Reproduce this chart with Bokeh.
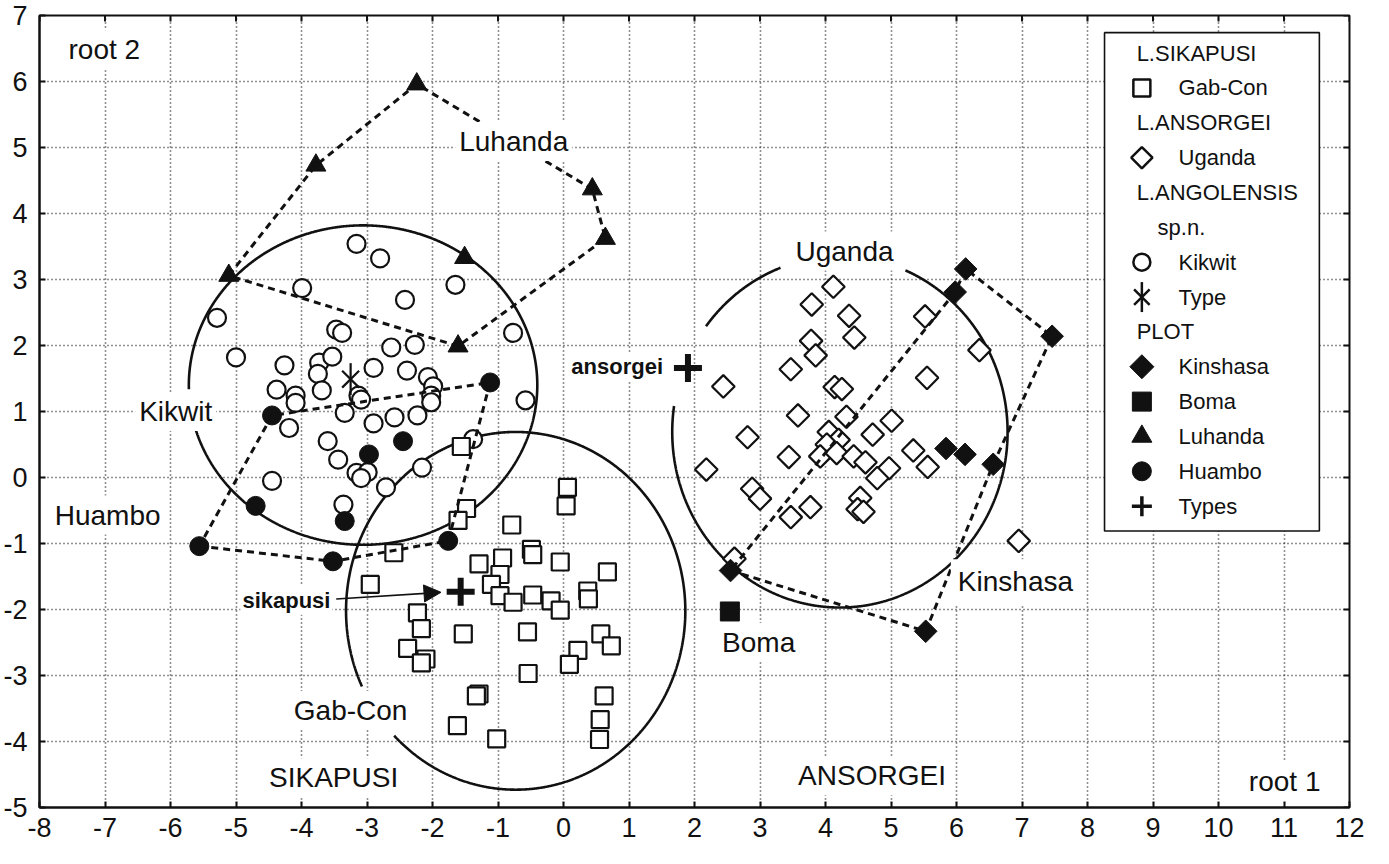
import numpy as np
from bokeh.plotting import figure
from bokeh.models import Range1d, Label, Arrow, NormalHead, FixedTicker
from bokeh.core.properties import value
from bokeh.embed import file_html
from bokeh.resources import INLINE

# ---------------- data ----------------
x_ticks = list(range(-8, 13))
y_ticks = list(range(-5, 8))

# L. sikapusi, Gab-Con (open squares)
gabcon_x = [-1.56, -1.48, -1.61, -2.59, -2.95, 0.06, 0.04, -0.79, -0.49, -0.47, -0.05, -1.29, -0.93, -0.97,
            -1.10, -0.97, -0.77, -0.47, -0.19, -0.05, 0.67, 0.37, 0.38, -2.23, -2.17, -2.38, -2.10, -2.17,
            -1.53, -0.55, 0.57, 0.73, 0.22, 0.09, -0.54, -1.29, -1.33, 0.62, 0.56, 0.55, -1.62, -1.02]
gabcon_y = [0.47, -0.47, -0.65, -1.14, -1.62, -0.15, -0.43, -0.72, -1.09, -1.17, -1.28, -1.31, -1.22, -1.47,
            -1.62, -1.79, -1.89, -1.78, -1.87, -2.01, -1.43, -1.72, -1.84, -2.05, -2.29, -2.59, -2.75, -2.81,
            -2.37, -2.34, -2.37, -2.55, -2.62, -2.83, -2.97, -3.28, -3.31, -3.31, -3.67, -3.97, -3.76, -3.96]

# L. ansorgei, Uganda (open diamonds)
uganda_x = [4.12, 3.79, 4.36, 4.44, 3.78, 3.85, 3.47, 5.52, 6.35, 5.55, 2.44, 4.14, 4.25, 3.58, 4.32, 5.01,
            4.72, 2.81, 4.05, 4.20, 4.02, 3.44, 3.92, 4.17, 4.43, 4.61, 5.34, 5.56, 4.97, 4.79, 2.18, 2.88,
            3.00, 3.77, 3.47, 4.53, 4.49, 4.58, 6.95, 2.61]
uganda_y = [2.89, 2.62, 2.45, 2.12, 2.07, 1.85, 1.64, 2.44, 1.93, 1.51, 1.38, 1.37, 1.34, 0.94, 0.92, 0.86,
            0.65, 0.61, 0.69, 0.57, 0.50, 0.31, 0.32, 0.37, 0.32, 0.23, 0.41, 0.16, 0.14, -0.01, 0.12, -0.17,
            -0.32, -0.45, -0.60, -0.31, -0.48, -0.52, -0.96, -1.23]

# L. angolensis sp.n., Kikwit (open circles)
kikwit_x = [-3.16, -2.80, -3.99, -2.42, -1.65, -5.29, -0.77, -3.47, -3.38, -2.63, -2.27, -5.00, -4.26, -3.73,
            -3.53, -3.75, -2.90, -2.39, -2.07, -1.99, -2.02, -2.02, -4.38, -4.09, -4.09, -3.69, -3.13, -3.09,
            -3.34, -2.58, -2.23, -2.90, -4.19, -0.58, -3.60, -2.16, -3.44, -3.16, -2.99, -3.09, -4.45, -3.36,
            -2.71, -1.38]
kikwit_y = [3.54, 3.32, 2.87, 2.69, 2.92, 2.42, 2.19, 2.24, 2.19, 1.97, 2.01, 1.82, 1.70, 1.74,
            1.83, 1.57, 1.66, 1.62, 1.52, 1.38, 1.24, 1.14, 1.33, 1.24, 1.13, 1.32, 1.24, 1.18,
            0.98, 0.91, 0.94, 0.82, 0.75, 1.17, 0.55, 0.15, 0.27, 0.07, 0.08, -0.01, -0.05, -0.41,
            -0.15, 0.58]
type_x = [-3.25]
type_y = [1.49]

# PLOT samples
kinshasa_x = [6.14, 5.98, 7.46, 5.84, 6.13, 6.56, 2.55, 5.53]
kinshasa_y = [3.16, 2.81, 2.14, 0.44, 0.35, 0.20, -1.41, -2.33]
kinshasa_hull = [6, 7, 5, 2, 0, 1]
boma_x = [2.54]
boma_y = [-2.03]
luhanda_x = [-5.11, -3.78, -2.24, 0.44, 0.64, -1.51, -1.61]
luhanda_y = [3.06, 4.73, 5.96, 4.37, 3.62, 3.33, 1.99]
luhanda_hull = [0, 1, 2, 3, 4, 6]
huambo_x = [-5.56, -4.70, -4.45, -3.52, -3.34, -2.97, -2.45, -1.76, -1.12]
huambo_y = [-1.04, -0.43, 0.94, -1.27, -0.66, 0.35, 0.55, -0.96, 1.44]
huambo_hull = [0, 3, 7, 8, 2]
types_x = [1.90, -1.57]
types_y = [1.66, -1.73]

# group circles: centre x, centre y, radius x, radius y, gaps (angle ranges)
ell_cx = [-3.06, -0.73, 4.22]
ell_cy = [1.40, -2.02, 0.69]
ell_rx = [2.66, 2.59, 2.56]
ell_ry = [2.42, 2.71, 2.66]
ell_gaps = [[(3.17, 3.40)], [(3.58, 3.91)], [(1.17, 1.93), (2.50, 2.99)]]

# ---------------- figure ----------------
FONT = "Liberation Sans"
INK = "#111111"

p = figure(width=1371, height=848, x_range=Range1d(-8, 12), y_range=Range1d(-5, 7),
           output_backend="svg", toolbar_location=None,
           min_border_left=35, min_border_right=22, min_border_top=15, min_border_bottom=41)
p.background_fill_color = "white"
p.border_fill_color = "white"
p.outline_line_color = INK
p.outline_line_width = 2

for ax, ticks, standoff in ((p.xaxis[0], x_ticks, 10), (p.yaxis[0], y_ticks, 12)):
    ax.ticker = FixedTicker(ticks=ticks)
    ax.major_label_overrides = {t: str(t) for t in ticks}
    ax.major_tick_in = 6
    ax.major_tick_out = 0
    ax.major_tick_line_width = 2
    ax.major_tick_line_color = INK
    ax.minor_tick_line_color = None
    ax.axis_line_width = 2
    ax.axis_line_color = INK
    ax.major_label_text_font = FONT
    ax.major_label_text_font_size = "27px"
    ax.major_label_text_color = INK
    ax.major_label_standoff = standoff

p.xgrid.ticker = FixedTicker(ticks=x_ticks)
p.ygrid.ticker = FixedTicker(ticks=y_ticks)
for g in (p.xgrid[0], p.ygrid[0]):
    g.grid_line_color = "#222222"
    g.grid_line_dash = "1 3"
    g.grid_line_width = 1.6

# inward tick marks on the top and right frame edges
p.scatter(x_ticks, [y_ticks[-1]] * len(x_ticks), marker="dash", angle=np.pi / 2, size=12,
          line_color=INK, line_width=2)
p.scatter([x_ticks[-1]] * len(y_ticks), y_ticks, marker="dash", size=12, line_color=INK, line_width=2)

# group circles
t = np.linspace(0, 2 * np.pi, 1441)
for cx, cy, rx, ry, gaps in zip(ell_cx, ell_cy, ell_rx, ell_ry, ell_gaps):
    ex = cx + rx * np.cos(t)
    ey = cy + ry * np.sin(t)
    for a, b in gaps:
        m = (t > a) & (t < b)
        ex[m] = np.nan
        ey[m] = np.nan
    p.line(ex, ey, line_color=INK, line_width=2.6)

# markers
p.scatter(kikwit_x, kikwit_y, marker="circle", size=18, fill_color="white", line_color=INK, line_width=2.2)
p.scatter(gabcon_x, gabcon_y, marker="square", size=17, fill_color="white", line_color=INK, line_width=2.2)
p.scatter(uganda_x, uganda_y, marker="square", angle=np.pi / 4, size=16, fill_color="white",
          line_color=INK, line_width=2.2)
p.scatter(huambo_x, huambo_y, marker="circle", size=19, fill_color=INK, line_color=INK)
p.scatter(kinshasa_x, kinshasa_y, marker="square", angle=np.pi / 4, size=16, fill_color=INK, line_color=INK)
p.scatter(boma_x, boma_y, marker="square", size=19, fill_color=INK, line_color=INK)
p.scatter(luhanda_x, luhanda_y, marker="triangle", size=20, fill_color=INK, line_color=INK)

# convex hulls
for hx, hy, order in ((kinshasa_x, kinshasa_y, kinshasa_hull),
                      (luhanda_x, luhanda_y, luhanda_hull),
                      (huambo_x, huambo_y, huambo_hull)):
    idx = order + [order[0]]
    p.line([hx[i] for i in idx], [hy[i] for i in idx], line_color=INK, line_width=3, line_dash="7 5")

# type markers
p.scatter(type_x, type_y, marker="x", size=24, line_color=INK, line_width=2.2)
p.scatter(type_x, type_y, marker="dash", angle=np.pi / 2, size=32, line_color=INK, line_width=2.2)
p.scatter(types_x, types_y, marker="cross", size=28, line_color=INK, line_width=6, level="overlay")

# arrow to sikapusi type
p.add_layout(Arrow(end=NormalHead(size=17, fill_color=INK, line_color=INK, line_width=1),
                   x_start=-3.47, y_start=-1.84, x_end=-1.87, y_end=-1.74,
                   line_color=INK, line_width=1.6))

# text labels
def add_label(x, y, text, size="28px", align="center", bold=False, pad=4):
    p.add_layout(Label(x=x, y=y, text=text, text_align=align, text_baseline="middle",
                       text_font=FONT, text_font_size=size, text_color=INK,
                       text_font_style="bold" if bold else "normal",
                       background_fill_color="white", padding=pad))

add_label(-7.01, 6.48, "root 2")
add_label(-0.76, 5.09, "Luhanda")
add_label(4.29, 3.43, "Uganda")
add_label(-5.92, 1.00, "Kikwit")
add_label(-6.96, -0.57, "Huambo")
add_label(1.55, 1.68, "ansorgei", size="22px", align="right", bold=True, pad=2)
add_label(-4.23, -1.86, "sikapusi", size="22px", bold=True, pad=2)
add_label(2.98, -2.50, "Boma")
add_label(6.90, -1.58, "Kinshasa", pad=7)
add_label(-3.25, -3.53, "Gab-Con")
add_label(-3.51, -4.55, "SIKAPUSI")
add_label(4.71, -4.52, "ANSORGEI")
add_label(11.01, -4.60, "root 1")

# ---------------- legend ----------------
leg_left, leg_right, leg_top, leg_bottom = 8.26, 11.54, 6.74, -0.81
p.quad(left=[leg_left], right=[leg_right], top=[leg_top], bottom=[leg_bottom],
       fill_color="white", line_color=INK, line_width=1.6)

row0, step = 6.43, 0.528
mx, hx, sx, tx = 8.83, 8.75, 9.07, 9.39
headers = [(0, hx, "L.SIKAPUSI"), (2, hx, "L.ANSORGEI"), (4, hx, "L.ANGOLENSIS"), (5, sx, "sp.n."),
           (8, hx, "PLOT")]
entries = [(1, "Gab-Con"), (3, "Uganda"), (6, "Kikwit"), (7, "Type"), (9, "Kinshasa"),
           (10, "Boma"), (11, "Luhanda"), (12, "Huambo"), (13, "Types")]

def ry(r):
    return row0 - r * step

p.text(x=[h[1] for h in headers], y=[ry(h[0]) for h in headers], text=[h[2] for h in headers],
       text_font=value(FONT), text_font_size=value("22px"), text_color=INK,
       text_align="left", text_baseline="middle")
p.text(x=[tx] * len(entries), y=[ry(e[0]) for e in entries], text=[e[1] for e in entries],
       text_font=value(FONT), text_font_size=value("22px"), text_color=INK,
       text_align="left", text_baseline="middle")

p.scatter([mx], [ry(1)], marker="square", size=17, fill_color="white", line_color=INK, line_width=2.5)
p.scatter([mx], [ry(3)], marker="square", angle=np.pi / 4, size=15, fill_color="white", line_color=INK, line_width=2.5)
p.scatter([mx], [ry(6)], marker="circle", size=17, fill_color="white", line_color=INK, line_width=2.5)
p.scatter([mx], [ry(7)], marker="x", size=22, line_color=INK, line_width=2.5)
p.scatter([mx], [ry(7)], marker="dash", angle=np.pi / 2, size=30, line_color=INK, line_width=2.5)
p.scatter([mx], [ry(9)], marker="square", angle=np.pi / 4, size=17, fill_color=INK, line_color=INK)
p.scatter([mx], [ry(10)], marker="square", size=19, fill_color=INK, line_color=INK)
p.scatter([mx], [ry(11)], marker="triangle", size=20, fill_color=INK, line_color=INK)
p.scatter([mx], [ry(12)], marker="circle", size=19, fill_color=INK, line_color=INK)
p.scatter([mx], [ry(13)], marker="cross", size=20, line_color=INK, line_width=3.5)

open("out.html", "w").write(file_html(p, INLINE))
